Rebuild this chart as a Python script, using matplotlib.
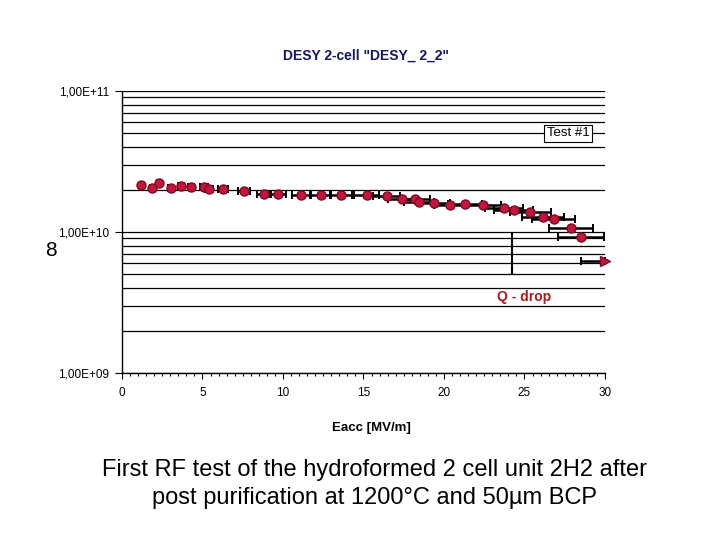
import matplotlib
matplotlib.use("Agg")
import matplotlib.pyplot as plt
import numpy as np
from matplotlib.ticker import FixedLocator, LogLocator, NullFormatter, MultipleLocator

plt.rcParams['font.family'] = ['Liberation Sans', 'DejaVu Sans']

# Data
eacc = [1.18, 1.86, 2.32, 3.02, 3.65, 4.29, 5.09, 5.40, 6.29, 7.58,
        8.82, 9.71, 11.12, 12.36, 13.60, 15.19, 16.44, 17.41, 18.20, 18.45,
        19.38, 20.37, 21.32, 22.40, 23.71, 24.33, 25.35, 26.14, 26.81, 27.89,
        28.51]
q0 = [2.16e10, 2.06e10, 2.21e10, 2.06e10, 2.12e10, 2.07e10, 2.07e10, 2.02e10, 2.01e10, 1.95e10,
      1.86e10, 1.86e10, 1.82e10, 1.82e10, 1.82e10, 1.82e10, 1.79e10, 1.71e10, 1.71e10, 1.63e10,
      1.61e10, 1.56e10, 1.57e10, 1.55e10, 1.47e10, 1.44e10, 1.39e10, 1.27e10, 1.23e10, 1.07e10,
      9.19e9]
eacc_err = [0.06, 0.09, 0.12, 0.15, 0.18, 0.21, 0.25, 0.27, 0.31, 0.38,
            0.44, 0.49, 0.56, 0.62, 0.68, 0.76, 0.82, 0.87, 0.91, 0.92,
            0.97, 1.02, 1.07, 1.12, 1.19, 1.22, 1.27, 1.31, 1.34, 1.39,
            1.43]
quench_eacc = [30.0]
quench_q0 = [6.18e9]
quench_err = [1.49]
qdrop_x = 24.2
qdrop_q = [5.0e9, 9.6e9]

fig = plt.figure(figsize=(7.2, 5.4), dpi=100)
ax = fig.add_axes([122/720, 1-373/540, (605-122)/720, (373-91)/540])

ax.set_yscale('log')
ax.set_xlim(0, 30)
ax.set_ylim(1e9, 1e11)

ax.errorbar(eacc, q0, xerr=eacc_err, fmt='none', ecolor='black', elinewidth=1.8,
            capsize=3, capthick=1.4, zorder=3, clip_on=False)
ax.plot(eacc, q0, 'o', ms=6.5, mfc='#C8143C', mec='#7A0A22', mew=1.0, zorder=4, clip_on=False)
ax.errorbar(quench_eacc, quench_q0, xerr=[quench_err, [0]], fmt='none', ecolor='black',
            elinewidth=1.8, capsize=3, capthick=1.4, zorder=3, clip_on=False)
ax.plot(quench_eacc, quench_q0, '>', ms=7, mfc='#C8143C', mec='#7A0A22', zorder=4, clip_on=False)

ax.plot([qdrop_x, qdrop_x], qdrop_q, color='black', lw=1.5, zorder=2)
ax.text(25.0, 3.45e9, 'Q - drop', color='#B01A1A', fontsize=10, fontweight='bold',
        ha='center', va='center')

ax.text(27.7, 5.0e10, 'Test #1', fontsize=9.5, ha='center', va='center', zorder=5,
        bbox=dict(boxstyle='square,pad=0.2', fc='white', ec='black', lw=0.8))

# grid
ax.yaxis.set_major_locator(FixedLocator([1e9, 1e10, 1e11]))
ax.yaxis.set_minor_locator(LogLocator(base=10, subs=np.arange(2, 10)))
ax.yaxis.set_minor_formatter(NullFormatter())
ax.set_yticklabels(['1,00E+09', '1,00E+10', '1,00E+11'])
ax.grid(True, which='both', axis='y', color='black', lw=0.9)
ax.xaxis.set_major_locator(MultipleLocator(5))
ax.xaxis.set_minor_locator(MultipleLocator(0.5))
ax.tick_params(axis='y', which='major', direction='out', length=5, width=0.8, labelsize=8.5, pad=4)
ax.tick_params(axis='y', which='minor', length=0)
ax.tick_params(axis='x', which='major', direction='out', length=4, width=0.8, labelsize=8.5, pad=6)
ax.tick_params(axis='x', which='minor', direction='out', length=2.5, width=0.8)
for s in ['top', 'right']:
    ax.spines[s].set_visible(False)
for s in ['left', 'bottom']:
    ax.spines[s].set_linewidth(1.0)

fig.text(366/720, 1-56/540, 'DESY 2-cell "DESY_ 2_2"', color='#14146E', fontsize=10,
         fontweight='bold', ha='center', va='center')
fig.text(371/720, 1-428/540, 'Eacc [MV/m]', fontsize=9.5, fontweight='bold', ha='center', va='center')
fig.text(51/720, 1-250/540, '8', fontsize=15, ha='center', va='center')
fig.text(374/720, 1-470/540, 'First RF test of the hydroformed 2 cell unit 2H2 after',
         fontsize=17, ha='center', va='center')
fig.text(374/720, 1-498/540, 'post purification at 1200°C and 50µm BCP',
         fontsize=17, ha='center', va='center')

fig.savefig('out.png', dpi=100)
